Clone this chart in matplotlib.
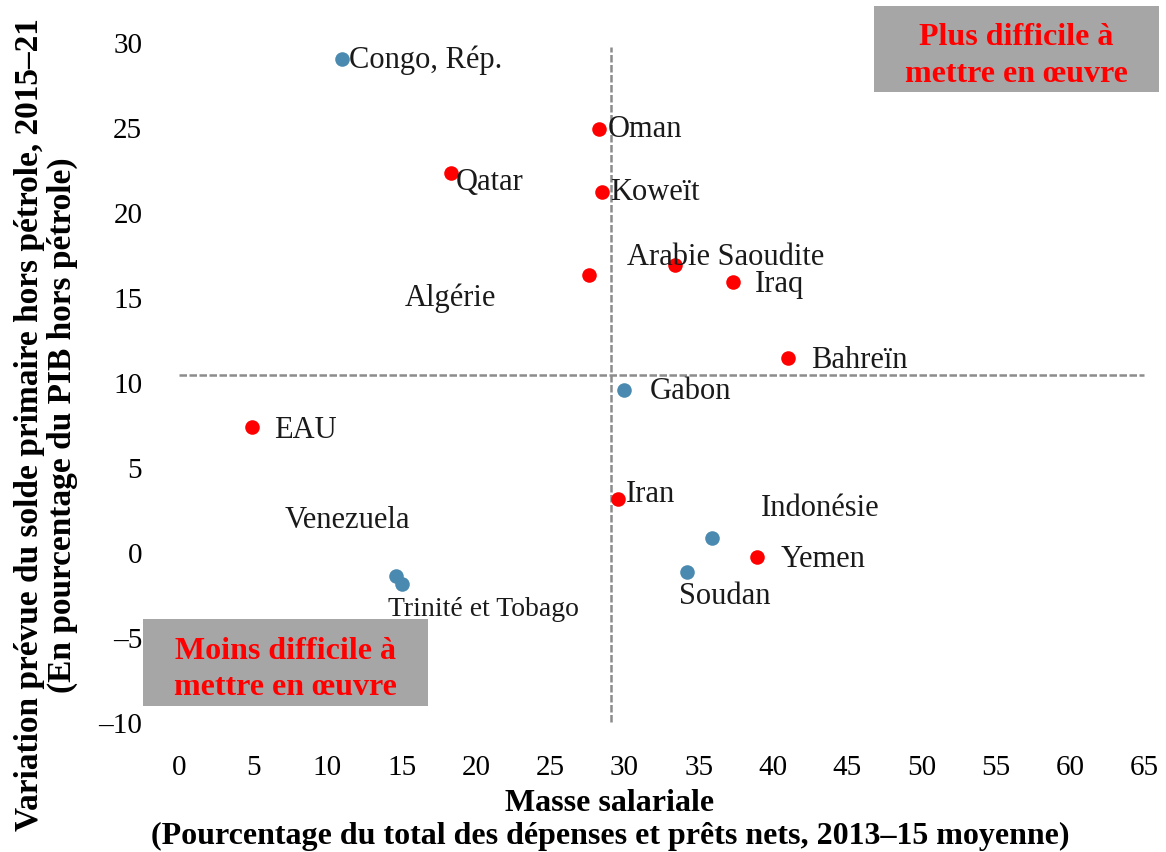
import matplotlib.pyplot as plt
from matplotlib.patches import Rectangle

# Masse salariale (x) vs variation prévue du solde primaire hors pétrole (y)
pays = ['Congo, Rép.', 'Qatar', 'Oman', 'Koweït', 'Algérie', 'Arabie Saoudite',
        'Iraq', 'Bahreïn', 'Gabon', 'EAU', 'Iran', 'Indonésie', 'Yemen',
        'Soudan', 'Venezuela', 'Trinité et Tobago']
masse_salariale = [11.0, 18.3, 28.3, 28.5, 27.6, 33.4, 37.3, 41.0, 30.0, 4.9,
                   29.6, 35.9, 38.9, 34.2, 14.6, 15.0]
variation_solde = [29.0, 22.3, 24.9, 21.2, 16.3, 16.9, 15.9, 11.4, 9.5, 7.35,
                   3.1, 0.8, -0.3, -1.2, -1.4, -1.9]
groupe = ['bleu', 'rouge', 'rouge', 'rouge', 'rouge', 'rouge', 'rouge', 'rouge',
          'bleu', 'rouge', 'rouge', 'bleu', 'rouge', 'bleu', 'bleu', 'bleu']

seuil_x = 29.1
seuil_y = 10.4

couleurs = {'rouge': '#FF0000', 'bleu': '#4A8AB0'}

# decalage des etiquettes (dx, dy) par rapport au point, en unites des axes
decalages = {
    'Congo, Rép.': (0.45, 0.0),
    'Qatar': (0.35, -0.5),
    'Oman': (0.55, 0.0),
    'Koweït': (0.55, 0.0),
    'Algérie': (-12.4, -1.3),
    'Arabie Saoudite': (-3.2, 0.5),
    'Iraq': (1.5, -0.1),
    'Bahreïn': (1.6, -0.05),
    'Gabon': (1.7, 0.0),
    'EAU': (1.5, -0.15),
    'Iran': (0.5, 0.35),
    'Indonésie': (3.3, 1.8),
    'Yemen': (1.6, -0.1),
    'Soudan': (-0.5, -1.35),
    'Venezuela': (-7.5, 3.3),
    'Trinité et Tobago': (-0.9, -1.4),
}

plt.rcParams['font.family'] = ['Liberation Serif', 'DejaVu Serif']

W, H = 1166, 853
fig = plt.figure(figsize=(W / 100, H / 100), dpi=100)
ax = fig.add_axes([0.128, 0.1325, 0.866, 0.837])

for x, y, g in zip(masse_salariale, variation_solde, groupe):
    ax.scatter(x, y, s=110, color=couleurs[g], zorder=3, linewidths=0)

for nom, x, y in zip(pays, masse_salariale, variation_solde):
    dx, dy = decalages[nom]
    taille = 20 if nom == 'Trinité et Tobago' else 22
    ax.text(x + dx, y + dy, nom, fontsize=taille, ha='left', va='center',
            color='#1a1a1a', zorder=4)

ax.plot([0, 65], [seuil_y, seuil_y], color='#8c8c8c', lw=1.8,
        linestyle=(0, (3, 1)), zorder=1, clip_on=False)
ax.plot([seuil_x, seuil_x], [-10, 29.7], color='#8c8c8c', lw=1.8,
        linestyle=(0, (3, 1)), zorder=1, clip_on=False)

ax.set_xlim(-2, 66)
ax.set_ylim(-11, 31)
ax.set_xticks(range(0, 70, 5))
ax.set_yticks(range(-10, 35, 5))
ax.set_yticklabels([str(v).replace('-', '\u2013') for v in range(-10, 35, 5)])
ax.tick_params(length=0, labelsize=21, pad=5)
ax.tick_params(axis='x', pad=11)
for s in ax.spines.values():
    s.set_visible(False)

# titres des axes
fig.text(610 / W, 1 - 820 / H,
         'Masse salariale\n(Pourcentage du total des dépenses et prêts nets, 2013\u201315 moyenne)',
         fontsize=23, fontweight='bold', ha='center', va='center', linespacing=1.2)
fig.text(46 / W, 1 - 425 / H,
         'Variation prévue du solde primaire hors pétrole, 2015\u201321\n(En pourcentage du PIB hors pétrole)',
         fontsize=24, fontweight='bold', ha='center', va='center', rotation=90,
         linespacing=1.1)

# encadres
for x0, y0, x1, y1, txt in [(874, 7, 1159, 93, 'Plus difficile à\nmettre en œuvre'),
                            (143, 620, 428, 707, 'Moins difficile à\nmettre en œuvre')]:
    fig.patches.append(Rectangle((x0 / W, 1 - y1 / H), (x1 - x0) / W, (y1 - y0) / H,
                                 transform=fig.transFigure, fc='#A6A6A6', ec='none',
                                 zorder=5))
    fig.text((x0 + x1) / 2 / W, 1 - ((y0 + y1) / 2 + 6) / H, txt, fontsize=23,
             fontweight='bold', color='#FF0000', ha='center', va='center',
             linespacing=1.32, zorder=6)

fig.savefig('out.png', dpi=100)
